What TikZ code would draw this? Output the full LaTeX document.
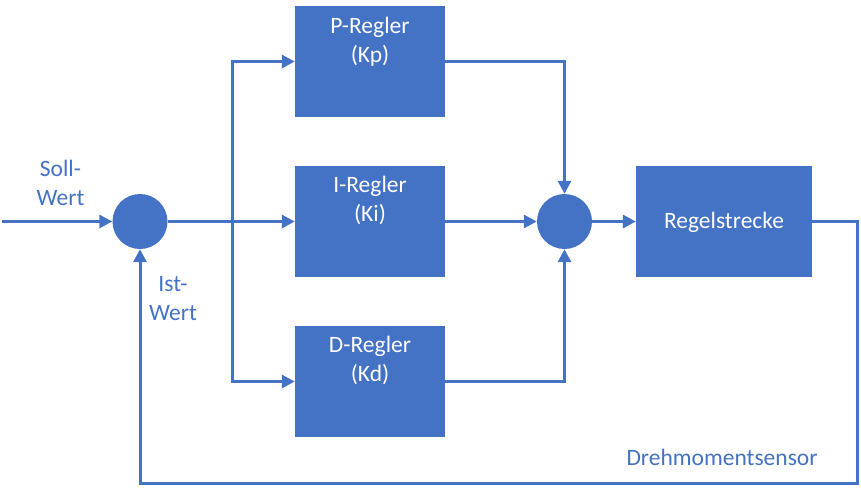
\documentclass[tikz,border=0pt]{standalone}
\usepackage{fontspec}
\setmainfont{Carlito}
\usetikzlibrary{arrows.meta}
\definecolor{mblue}{HTML}{4472C4}
\begin{document}
\begin{tikzpicture}[x=1pt,y=-1pt,
  blk/.style={draw=none,fill=mblue,minimum width=150pt,minimum height=111pt,inner sep=0pt},
  sumc/.style={circle,fill=mblue,minimum size=55pt,inner sep=0pt},
  btxt/.style={text=white,align=center,font=\fontsize{23.5}{29}\selectfont,inner sep=0pt},
  ltxt/.style={text=mblue,align=center,font=\fontsize{23.5}{29}\selectfont,inner sep=0pt},
  conn/.style={draw=mblue,line width=3pt},
  arr/.style={conn,-{Triangle[length=13pt,width=13pt]}}]
\useasboundingbox (0,0) rectangle (861,490);
\node[blk] (P) at (370,61.5) {};
\node[blk] (I) at (370,221.5) {};
\node[blk] (D) at (370,381.5) {};
\node[blk,minimum width=176pt] (R) at (724,221.5) {};
\node[sumc] (s1) at (140,221.5) {};
\node[sumc] (s2) at (564.5,221.5) {};
\node[btxt] (tP) at (370,41.5) {P-Regler\\(Kp)};
\node[btxt] (tI) at (370,200) {I-Regler\\(Ki)};
\node[btxt] (tD) at (370,360.5) {D-Regler\\(Kd)};
\node[btxt] (tR) at (724,222) {Regelstrecke};
\node[ltxt] (soll) at (60.5,183) {Soll-\\Wert};
\node[ltxt] (ist) at (173,299) {Ist-\\Wert};
\node[ltxt] (sens) at (722,457) {Drehmomentsensor};
\coordinate (in) at (2,221.5);
\coordinate (br) at (232,221.5);
\coordinate (c1) at (857,221.5);
\coordinate (c2) at (857,483);
\coordinate (c3) at (140,483);
\draw[arr] (in) -- (s1.west);
\draw[arr] (s1.east) -- (I.west);
\draw[arr] (br) |- (P.west);
\draw[arr] (br) |- (D.west);
\draw[arr] (P.east) -| (s2.north);
\draw[arr] (I.east) -- (s2.west);
\draw[arr] (D.east) -| (s2.south);
\draw[arr] (s2.east) -- (R.west);
\draw[arr] (R.east) -- (c1) -- (c2) -- (c3) -- (s1.south);
\end{tikzpicture}
\end{document}
